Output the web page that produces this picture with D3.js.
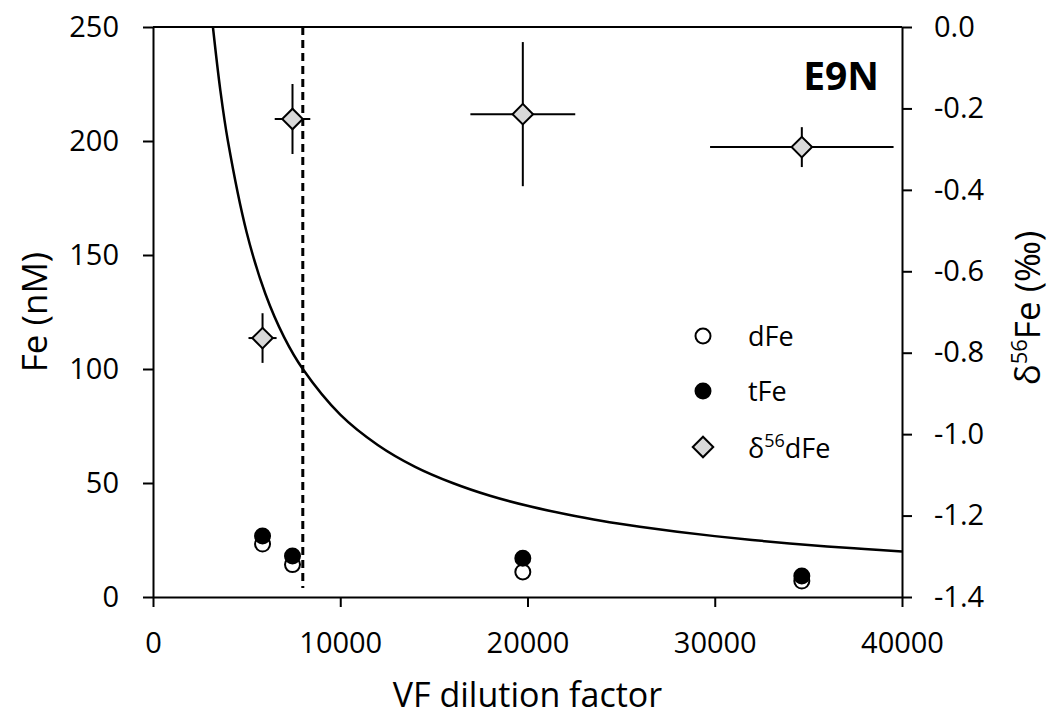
<!DOCTYPE html>
<html>
<head>
<meta charset="utf-8">
<script src="https://cdn.jsdelivr.net/npm/d3@7"></script>
<style>
  body { margin: 0; background: #fff; }
  svg { font-family: "Open Sans", sans-serif; }
  .axis path, .axis line { stroke: #000; stroke-width: 2px; }
  .axis text { font-size: 29px; fill: #000; }
</style>
</head>
<body>
<svg id="chart" width="1053" height="718"></svg>
<script>
// values
var vfFactor = [5850, 7450, 19750, 34650];
var dFe = [23.2, 14.2, 11.0, 7.0];
var tFe = [26.8, 18.0, 17.0, 9.2];

var isoFactor = [7450, 19750, 34650, 5850];
var isoErrX = [950, 2800, 4900, 750];
var d56Fe = [-0.226, -0.214, -0.295, -0.764];
var d56Err = [0.086, 0.177, 0.049, 0.061];

// dilution curve
var curveX = [3200, 3600, 4000, 5000, 6000, 7000, 8000, 10000, 12000, 14000, 16000,
  18000, 20000, 22000, 24000, 26000, 28000, 30000, 32000, 34000, 36000, 38000, 40000];
var curveFe = [250, 222, 200, 160, 133, 114, 100, 80, 66.7, 57.1, 50,
  44.4, 40, 36.4, 33.3, 30.8, 28.6, 26.7, 25, 23.5, 22.2, 21.1, 20];
var dilutionLimit = 8000;

var xTicks = [0, 10000, 20000, 30000, 40000];
var yTicks = [0, 50, 100, 150, 200, 250];
var y2Ticks = [-1.4, -1.2, -1.0, -0.8, -0.6, -0.4, -0.2, 0.0];

var svg = d3.select('#chart');
var margins = { top: 27, bottom: 121, left: 153, right: 151 };
var width = 1053, height = 718;

var x = d3.scaleLinear()
  .domain([0, 40000])
  .range([margins.left, width - margins.right]);
var y = d3.scaleLinear()
  .domain([0, 250])
  .range([height - margins.bottom, margins.top]);
var y2 = d3.scaleLinear()
  .domain([-1.4, 0])
  .range([height - margins.bottom, margins.top]);

// top frame line
svg.append('line')
  .attr('x1', x(0)).attr('x2', x(40000))
  .attr('y1', y(250)).attr('y2', y(250))
  .attr('stroke', '#000').attr('stroke-width', 2);

svg.append('g')
  .attr('class', 'axis')
  .attr('transform', 'translate(0,' + y(0) + ')')
  .call(d3.axisBottom(x).tickValues(xTicks).tickSize(10).tickSizeOuter(0)
    .tickPadding(25).tickFormat(d3.format('d')));

svg.append('g')
  .attr('class', 'axis')
  .attr('transform', 'translate(' + x(0) + ',0)')
  .call(d3.axisLeft(y).tickValues(yTicks).tickSize(10).tickSizeOuter(0)
    .tickPadding(24));

svg.append('g')
  .attr('class', 'axis')
  .attr('transform', 'translate(' + x(40000) + ',0)')
  .call(d3.axisRight(y2).tickValues(y2Ticks).tickSize(10).tickSizeOuter(0)
    .tickPadding(22).tickFormat(function(d) {
      return d3.format('.1f')(d).replace('\u2212', '-');
    }));

svg.selectAll('.axis text').attr('font-family', '"Open Sans", sans-serif');

// axis titles
svg.append('text')
  .attr('x', (x(0) + x(40000)) / 2)
  .attr('y', 707)
  .attr('text-anchor', 'middle')
  .attr('font-size', '34px')
  .text('VF dilution factor');

svg.append('text')
  .attr('transform', 'translate(47,' + ((y(0) + y(250)) / 2) + ') rotate(-90)')
  .attr('text-anchor', 'middle')
  .attr('font-size', '35px')
  .text('Fe (nM)');

var rTitle = svg.append('text')
  .attr('transform', 'translate(1040,' + ((y(0) + y(250)) / 2 - 4) + ') rotate(-90)')
  .attr('text-anchor', 'middle')
  .attr('font-size', '35px');
rTitle.append('tspan').text('δ');
rTitle.append('tspan').attr('font-size', '22px').attr('dy', -13).text('56');
rTitle.append('tspan').attr('dy', 13).text('Fe (‰)');

// station label
svg.append('text')
  .attr('x', 879)
  .attr('y', 90)
  .attr('text-anchor', 'end')
  .attr('font-size', '39px')
  .attr('font-weight', 'bold')
  .text('E9N');

// dashed limit line
svg.append('line')
  .attr('x1', x(dilutionLimit)).attr('x2', x(dilutionLimit))
  .attr('y1', y(250)).attr('y2', y(4))
  .attr('stroke', '#000').attr('stroke-width', 3)
  .attr('stroke-dasharray', '8,5');

// dilution curve
var line = d3.line()
  .x(function(d, i) { return x(curveX[i]); })
  .y(function(d) { return y(d); })
  .curve(d3.curveCatmullRom.alpha(0.5));

svg.append('path')
  .datum(curveFe)
  .attr('d', line)
  .attr('fill', 'none')
  .attr('stroke', '#000')
  .attr('stroke-width', 2.5);

// error bars for isotope points
var iso = isoFactor.map(function(f, i) {
  return { f: f, ex: isoErrX[i], v: d56Fe[i], ev: d56Err[i] };
});

var bars = svg.append('g').attr('stroke', '#000').attr('stroke-width', 2);
iso.forEach(function(d) {
  bars.append('line')
    .attr('x1', x(d.f - d.ex)).attr('x2', x(d.f + d.ex))
    .attr('y1', y2(d.v)).attr('y2', y2(d.v));
  bars.append('line')
    .attr('x1', x(d.f)).attr('x2', x(d.f))
    .attr('y1', y2(d.v - d.ev)).attr('y2', y2(d.v + d.ev));
});

var diamond = d3.symbol().type(d3.symbolSquare).size(210);

svg.selectAll('.iso')
  .data(iso)
  .enter()
  .append('path')
  .attr('class', 'iso')
  .attr('d', diamond)
  .attr('transform', function(d) {
    return 'translate(' + x(d.f) + ',' + y2(d.v) + ') rotate(45)';
  })
  .attr('fill', '#d9d9d9')
  .attr('stroke', '#000')
  .attr('stroke-width', 2);

// dFe (open) first, tFe (filled) on top
svg.selectAll('.dfe')
  .data(dFe)
  .enter()
  .append('circle')
  .attr('class', 'dfe')
  .attr('cx', function(d, i) { return x(vfFactor[i]); })
  .attr('cy', function(d) { return y(d); })
  .attr('r', 7.5)
  .attr('fill', '#fff')
  .attr('stroke', '#000')
  .attr('stroke-width', 2);

svg.selectAll('.tfe')
  .data(tFe)
  .enter()
  .append('circle')
  .attr('class', 'tfe')
  .attr('cx', function(d, i) { return x(vfFactor[i]); })
  .attr('cy', function(d) { return y(d); })
  .attr('r', 7.5)
  .attr('fill', '#000')
  .attr('stroke', '#000')
  .attr('stroke-width', 2);

// legend
var legX = 703, legText = 748;
var legend = svg.append('g').attr('font-size', '27px');

legend.append('circle')
  .attr('cx', legX).attr('cy', 336).attr('r', 7.5)
  .attr('fill', '#fff').attr('stroke', '#000').attr('stroke-width', 2);
legend.append('text').attr('x', legText).attr('y', 346).text('dFe');

legend.append('circle')
  .attr('cx', legX).attr('cy', 391).attr('r', 7.5)
  .attr('fill', '#000').attr('stroke', '#000').attr('stroke-width', 2);
legend.append('text').attr('x', legText).attr('y', 401).text('tFe');

legend.append('path')
  .attr('d', diamond)
  .attr('transform', 'translate(' + legX + ',447) rotate(45)')
  .attr('fill', '#d9d9d9').attr('stroke', '#000').attr('stroke-width', 2);
var legIso = legend.append('text').attr('x', legText).attr('y', 458);
legIso.append('tspan').text('δ');
legIso.append('tspan').attr('font-size', '18px').attr('dy', -11).text('56');
legIso.append('tspan').attr('dy', 11).text('dFe');
</script>
</body>
</html>
